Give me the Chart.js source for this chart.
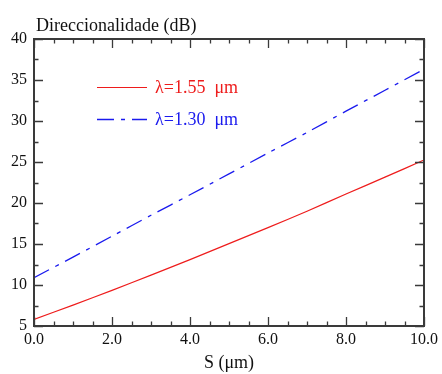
<!DOCTYPE html>
<html>
<head>
<meta charset="utf-8">
<script src="https://cdn.jsdelivr.net/npm/chart.js@4"></script>
<style>
html,body{margin:0;padding:0;background:#fff;}
#wrap{position:relative;width:442px;height:374px;}
</style>
</head>
<body>
<div id="wrap"><canvas id="c" width="442" height="374"></canvas></div>
<script>
// ---- data ----
const sValues = [0, 1, 2, 3, 4, 5, 6, 7, 8, 9, 10];
const dir155 = [5.8, 7.55, 9.35, 11.2, 13.1, 15.05, 17.0, 19.0, 21.1, 23.15, 25.25];
const dir130 = [10.9, 13.4, 15.95, 18.5, 21.0, 23.55, 26.1, 28.6, 31.2, 33.75, 36.3];
const seriesLabels = ['λ=1.55  μm', 'λ=1.30  μm'];
const xTicks = [0, 2, 4, 6, 8, 10];
const yTicks = [5, 10, 15, 20, 25, 30, 35, 40];
const yTitle = 'Direccionalidade (dB)';
const xTitle = 'S (μm)';

const FONT = '"Liberation Serif", "Times New Roman", serif';
const AXIS = '#3a3a3a';

const frame = {
  id: 'frame',
  afterDatasetsDraw(chart) {
    const {ctx, chartArea: a, scales: {x, y}} = chart;
    ctx.save();
    ctx.strokeStyle = AXIS;
    ctx.lineWidth = 1.3;
    for (let v = x.min; v <= x.max + 1e-9; v += 0.5) {
      const px = Math.round(x.getPixelForValue(v)) + 0.5;
      const len = xTicks.includes(Math.round(v * 100) / 100) ? 9 : 4.5;
      ctx.beginPath();
      ctx.moveTo(px, a.bottom); ctx.lineTo(px, a.bottom - len);
      ctx.moveTo(px, a.top); ctx.lineTo(px, a.top + len);
      ctx.stroke();
    }
    for (let v = y.min; v <= y.max + 1e-9; v += 2.5) {
      const py = Math.round(y.getPixelForValue(v)) + 0.5;
      const len = yTicks.includes(v) ? 9 : 4.5;
      ctx.beginPath();
      ctx.moveTo(a.left, py); ctx.lineTo(a.left + len, py);
      ctx.moveTo(a.right, py); ctx.lineTo(a.right - len, py);
      ctx.stroke();
    }
    ctx.lineWidth = 2;
    ctx.strokeRect(a.left, a.top, a.right - a.left, a.bottom - a.top);

    // legend
    const ds = chart.data.datasets;
    const rows = [a.top + 48, a.top + 80];
    ds.forEach((d, i) => {
      const yy = rows[i] + 0.5;
      ctx.beginPath();
      ctx.strokeStyle = d.borderColor;
      ctx.lineWidth = d.borderWidth;
      ctx.setLineDash(d.borderDash || []);
      ctx.moveTo(a.left + 63, yy); ctx.lineTo(a.left + 113, yy);
      ctx.stroke();
      ctx.setLineDash([]);
      ctx.fillStyle = d.borderColor;
      ctx.font = '18px ' + FONT;
      ctx.textBaseline = 'alphabetic';
      ctx.textAlign = 'left';
      ctx.fillText(d.label, a.left + 121, rows[i] + 6);
    });

    // y title at top-left
    ctx.fillStyle = '#111';
    ctx.font = '18px ' + FONT;
    ctx.textBaseline = 'alphabetic';
    ctx.textAlign = 'left';
    ctx.fillText(yTitle, a.left + 2, 31);
    ctx.restore();
  }
};

new Chart(document.getElementById('c'), {
  type: 'line',
  data: {
    datasets: [
      {
        label: seriesLabels[0],
        data: sValues.map((s, i) => ({x: s, y: dir155[i]})),
        borderColor: '#ee1c1c',
        borderWidth: 1.2,
        pointRadius: 0,
        fill: false,
        tension: 0.3
      },
      {
        label: seriesLabels[1],
        data: sValues.map((s, i) => ({x: s, y: dir130[i]})),
        borderColor: '#1a1aee',
        borderWidth: 1.3,
        borderDash: [17, 7, 4, 7],
        pointRadius: 0,
        fill: false,
        tension: 0.3
      }
    ]
  },
  options: {
    responsive: false,
    animation: false,
    devicePixelRatio: 1,
    layout: {padding: {left: 0, right: 16, top: 39, bottom: 0}},
    plugins: {legend: {display: false}, tooltip: {enabled: false}, title: {display: false}},
    scales: {
      x: {
        type: 'linear',
        min: 0, max: 10,
        afterFit(s) { s.height = 48; },
        afterBuildTicks(s) { s.ticks = xTicks.map(v => ({value: v})); },
        grid: {display: false, drawTicks: false},
        border: {display: false},
        ticks: {
          padding: 4,
          color: '#111',
          font: {family: FONT, size: 16},
          maxRotation: 0,
          callback: v => v.toFixed(1)
        },
        title: {
          display: true, text: xTitle, color: '#111',
          font: {family: FONT, size: 18}, padding: {top: 2, bottom: 0}
        }
      },
      y: {
        type: 'linear',
        min: 5, max: 40,
        afterFit(s) { s.width = 34; },
        afterBuildTicks(s) { s.ticks = yTicks.map(v => ({value: v})); },
        grid: {display: false, drawTicks: false},
        border: {display: false},
        ticks: {
          padding: 7,
          color: '#111',
          font: {family: FONT, size: 16}
        }
      }
    }
  },
  plugins: [frame]
});
</script>
</body>
</html>
